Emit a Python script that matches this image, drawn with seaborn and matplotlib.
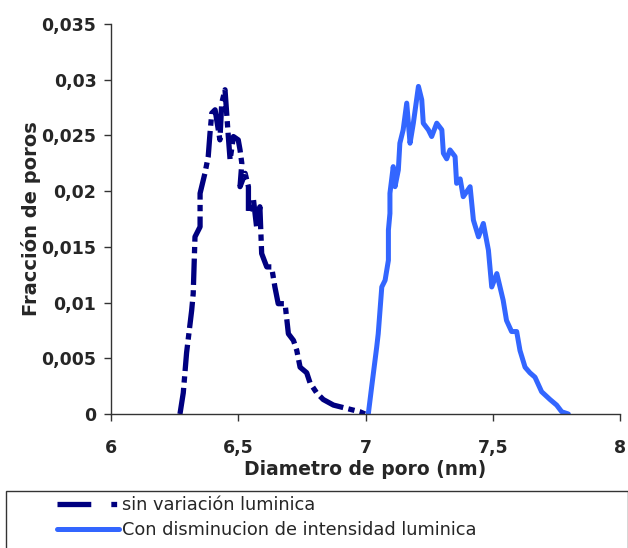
import matplotlib
matplotlib.use("Agg")
import matplotlib.pyplot as plt
import seaborn as sns
import pandas as pd
from matplotlib.patches import Rectangle
from matplotlib.ticker import FuncFormatter, MultipleLocator

# Pore-size distribution without illumination change
d_sin = [6.271, 6.284, 6.297, 6.317, 6.323, 6.330, 6.350, 6.350, 6.369, 6.382,
         6.389, 6.396, 6.409, 6.428, 6.435, 6.448, 6.461, 6.468, 6.481, 6.500,
         6.507, 6.514, 6.507, 6.527, 6.540, 6.540, 6.560, 6.572, 6.585, 6.592,
         6.612, 6.631, 6.644, 6.657, 6.684, 6.697, 6.717, 6.730, 6.743, 6.769,
         6.782, 6.808, 6.834, 6.874, 6.926, 6.978, 6.998]
f_sin = [0.0000, 0.0019, 0.0055, 0.0093, 0.0108, 0.0159, 0.0168, 0.0198, 0.0216, 0.0231,
         0.0252, 0.0270, 0.0273, 0.0246, 0.0279, 0.0291, 0.0249, 0.0228, 0.0249, 0.0246,
         0.0237, 0.0225, 0.0204, 0.0216, 0.0204, 0.0180, 0.0192, 0.0168, 0.0186, 0.0144,
         0.0132, 0.0132, 0.0114, 0.0099, 0.0099, 0.0072, 0.0066, 0.0057, 0.0042, 0.0037,
         0.0028, 0.0019, 0.0013, 0.0008, 0.0005, 0.0002, 0.0000]

# Pore-size distribution with decreased light intensity
d_con = [7.011, 7.024, 7.044, 7.050, 7.057, 7.064, 7.077, 7.090, 7.090, 7.096,
         7.096, 7.109, 7.116, 7.129, 7.135, 7.148, 7.162, 7.175, 7.188, 7.208,
         7.221, 7.227, 7.247, 7.260, 7.280, 7.300, 7.306, 7.319, 7.332, 7.352,
         7.358, 7.372, 7.384, 7.411, 7.424, 7.444, 7.463, 7.483, 7.496, 7.516,
         7.541, 7.554, 7.574, 7.594, 7.607, 7.627, 7.646, 7.666, 7.692, 7.725,
         7.751, 7.771, 7.797]
f_con = [0.0000, 0.0024, 0.0060, 0.0072, 0.0093, 0.0114, 0.0120, 0.0138, 0.0165, 0.0180,
         0.0198, 0.0222, 0.0204, 0.0219, 0.0243, 0.0255, 0.0279, 0.0243, 0.0261, 0.0294,
         0.0282, 0.0261, 0.0255, 0.0249, 0.0261, 0.0255, 0.0234, 0.0229, 0.0237, 0.0231,
         0.0207, 0.0211, 0.0195, 0.0204, 0.0174, 0.0159, 0.0171, 0.0147, 0.0114, 0.0126,
         0.0102, 0.0084, 0.0074, 0.0074, 0.0057, 0.0042, 0.0037, 0.0033, 0.0020, 0.0013,
         0.0008, 0.0002, 0.0000]

label_sin = "sin variación luminica"
label_con = "Con disminucion de intensidad luminica"
x_ticks = [6, 6.5, 7, 7.5, 8]
y_max = 0.035

sns.set_theme(style="ticks")
plt.rcParams["font.family"] = ["DejaVu Sans"]

fig = plt.figure(figsize=(6.28, 5.48), dpi=100)
ax = fig.add_axes([111 / 628, 1 - 414 / 548, 509 / 628, 390 / 548])

df_sin = pd.DataFrame({"d": d_sin, "f": f_sin})
df_con = pd.DataFrame({"d": d_con, "f": f_con})

sns.lineplot(data=df_sin, x="d", y="f", sort=False, ax=ax, color="#000080",
             linewidth=3.8, label=label_sin, estimator=None)
sns.lineplot(data=df_con, x="d", y="f", sort=False, ax=ax, color="#3366FF",
             linewidth=3.6, label=label_con, estimator=None)
ax.lines[0].set_dashes((5, 1.0, 1.2, 1.0))
ax.lines[0].set_dash_capstyle("butt")
ax.lines[1].set_solid_capstyle("round")
ax.lines[1].set_solid_joinstyle("round")

ax.set_xlim(6, 8)
ax.set_ylim(0, y_max)
ax.set_xticks(x_ticks)
ax.yaxis.set_major_locator(MultipleLocator(0.005))

def comma_fmt(v, pos):
    s = f"{v:.3f}".rstrip("0").rstrip(".")
    return s.replace(".", ",")

ax.xaxis.set_major_formatter(FuncFormatter(comma_fmt))
ax.yaxis.set_major_formatter(FuncFormatter(comma_fmt))

for spine in ["top", "right"]:
    ax.spines[spine].set_visible(False)
for spine in ["left", "bottom"]:
    ax.spines[spine].set_color("#333333")
    ax.spines[spine].set_linewidth(1.0)

ax.tick_params(axis="both", direction="out", length=5, width=1, color="#333333",
               labelsize=12.5)
ax.tick_params(axis="y", pad=5.5)
ax.tick_params(axis="x", pad=13)
for lab in ax.get_xticklabels() + ax.get_yticklabels():
    lab.set_fontweight("bold")

ax.set_xlabel("Diametro de poro (nm)", fontsize=13.5, fontweight="bold")
ax.set_ylabel("Fracción de poros", fontsize=14, fontweight="bold")
ax.xaxis.set_label_coords(0.5, (414 - 460) / 390)
ax.yaxis.set_label_coords((41 - 111) / 509, 0.5)

handles, labels = ax.get_legend_handles_labels()
ax.get_legend().remove()

fig.patches.append(Rectangle((6 / 628, -0.01), 0.99, (548 - 491) / 548 + 0.01,
                             transform=fig.transFigure, fill=False,
                             edgecolor="#333333", linewidth=1.0))
leg = fig.legend(handles, labels, loc="upper left",
                 bbox_to_anchor=(57 / 628, 1 - 496 / 548),
                 frameon=False, fontsize=12.8, handlelength=3.5, handletextpad=0.17,
                 labelspacing=0.4, borderpad=0, borderaxespad=0)
leg.get_lines()[0].set_dashes((6.4, 3.8, 1.1, 0.6))

fig.savefig("out.png", dpi=100)
